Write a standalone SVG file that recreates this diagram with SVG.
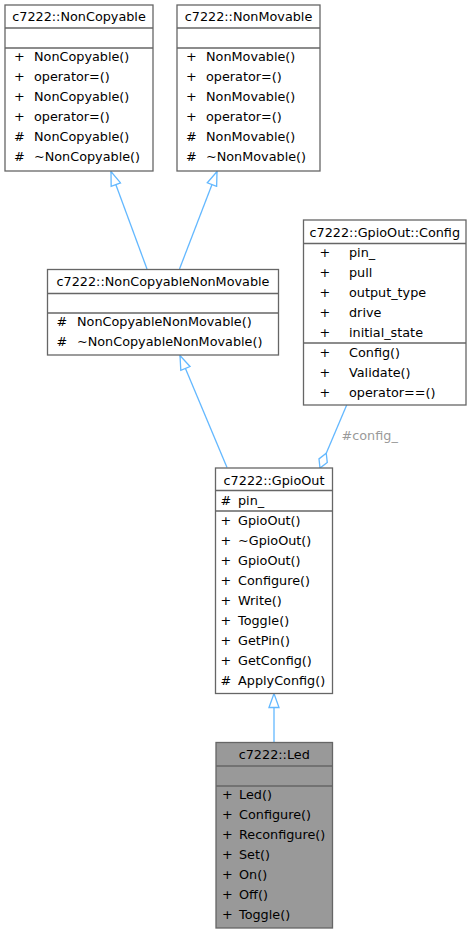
<svg xmlns="http://www.w3.org/2000/svg" width="471" height="933" viewBox="0 0 471 933">
<style>
  .box { fill: #ffffff; stroke: #666666; stroke-width: 1.3; }
  .dark { fill: #999999; }
  .div { stroke: #666666; stroke-width: 1.3; fill: none; }
  text { font-family: "DejaVu Sans", "Liberation Sans", sans-serif; font-size: 12.8px; fill: #000000; }
  .t { text-anchor: middle; }
  .lbl { fill: #9a9a9a; }
  .edge { stroke: #63b8ff; stroke-width: 1.3; fill: none; }
</style>
<defs>
  <marker id="inh" viewBox="-1 -1 16 12" refX="14" refY="5" markerWidth="16" markerHeight="12" orient="auto" markerUnits="userSpaceOnUse">
    <path d="M0,0 L14,5 L0,10 Z" fill="#ffffff" stroke="#63b8ff" stroke-width="1.3"/>
  </marker>
  <marker id="agg" viewBox="-1 -6 18 12" refX="16" refY="0" markerWidth="18" markerHeight="12" orient="auto" markerUnits="userSpaceOnUse">
    <path d="M0,0 L8,-4.5 L16,0 L8,4.5 Z" fill="#ffffff" stroke="#63b8ff" stroke-width="1.3"/>
  </marker>
</defs>

<g id="connectors">
  <path class="edge" d="M147,269 L111,171.5" marker-end="url(#inh)"/>
  <path class="edge" d="M179.5,269 L217,171.5" marker-end="url(#inh)"/>
  <path class="edge" d="M227,467.5 L180,355.5" marker-end="url(#inh)"/>
  <path class="edge" d="M274,742 L274,693.5" marker-end="url(#inh)"/>
  <path class="edge" d="M346.7,405 L320,468" marker-end="url(#agg)"/>
  <text class="lbl" x="341.5" y="440">#config_</text>
</g>

<g id="NonCopyable">
  <rect class="box" x="5" y="5" width="148" height="166"/>
  <line class="div" x1="5" y1="28" x2="153" y2="28"/>
  <line class="div" x1="5" y1="48" x2="153" y2="48"/>
  <text class="t" x="79" y="21">c7222::NonCopyable</text>
  <text x="14" y="61">+</text><text x="34" y="61">NonCopyable()</text>
  <text x="14" y="81">+</text><text x="34" y="81">operator=()</text>
  <text x="14" y="101">+</text><text x="34" y="101">NonCopyable()</text>
  <text x="14" y="121">+</text><text x="34" y="121">operator=()</text>
  <text x="14" y="141">#</text><text x="34" y="141">NonCopyable()</text>
  <text x="14" y="161">#</text><text x="34" y="161">~NonCopyable()</text>
</g>

<g id="NonMovable">
  <rect class="box" x="177" y="5" width="143" height="166"/>
  <line class="div" x1="177" y1="28" x2="320" y2="28"/>
  <line class="div" x1="177" y1="48" x2="320" y2="48"/>
  <text class="t" x="248.5" y="21">c7222::NonMovable</text>
  <text x="186" y="61">+</text><text x="206" y="61">NonMovable()</text>
  <text x="186" y="81">+</text><text x="206" y="81">operator=()</text>
  <text x="186" y="101">+</text><text x="206" y="101">NonMovable()</text>
  <text x="186" y="121">+</text><text x="206" y="121">operator=()</text>
  <text x="186" y="141">#</text><text x="206" y="141">NonMovable()</text>
  <text x="186" y="161">#</text><text x="206" y="161">~NonMovable()</text>
</g>

<g id="NonCopyableNonMovable">
  <rect class="box" x="47.5" y="269.5" width="231" height="85.5"/>
  <line class="div" x1="47.5" y1="293.5" x2="278.5" y2="293.5"/>
  <line class="div" x1="47.5" y1="313" x2="278.5" y2="313"/>
  <text class="t" x="163" y="286">c7222::NonCopyableNonMovable</text>
  <text x="56.5" y="326">#</text><text x="77" y="326">NonCopyableNonMovable()</text>
  <text x="56.5" y="346">#</text><text x="77" y="346">~NonCopyableNonMovable()</text>
</g>

<g id="GpioOutConfig">
  <rect class="box" x="303.5" y="220" width="162.5" height="185"/>
  <line class="div" x1="303.5" y1="243.5" x2="466" y2="243.5"/>
  <line class="div" x1="303.5" y1="343" x2="466" y2="343"/>
  <text class="t" x="384.75" y="237">c7222::GpioOut::Config</text>
  <text x="319.5" y="257">+</text><text x="349" y="257">pin_</text>
  <text x="319.5" y="277">+</text><text x="349" y="277">pull</text>
  <text x="319.5" y="297">+</text><text x="349" y="297">output_type</text>
  <text x="319.5" y="317">+</text><text x="349" y="317">drive</text>
  <text x="319.5" y="337">+</text><text x="349" y="337">initial_state</text>
  <text x="319.5" y="357">+</text><text x="349" y="357">Config()</text>
  <text x="319.5" y="377">+</text><text x="349" y="377">Validate()</text>
  <text x="319.5" y="397">+</text><text x="349" y="397">operator==()</text>
</g>

<g id="GpioOut">
  <rect class="box" x="215.5" y="468" width="117" height="225.5"/>
  <line class="div" x1="215.5" y1="490.5" x2="332.5" y2="490.5"/>
  <line class="div" x1="215.5" y1="511" x2="332.5" y2="511"/>
  <text class="t" x="274" y="485">c7222::GpioOut</text>
  <text x="220.5" y="504.5">#</text><text x="238" y="504.5">pin_</text>
  <text x="220.5" y="524.5">+</text><text x="238" y="524.5">GpioOut()</text>
  <text x="220.5" y="544.5">+</text><text x="238" y="544.5">~GpioOut()</text>
  <text x="220.5" y="564.5">+</text><text x="238" y="564.5">GpioOut()</text>
  <text x="220.5" y="584.5">+</text><text x="238" y="584.5">Configure()</text>
  <text x="220.5" y="604.5">+</text><text x="238" y="604.5">Write()</text>
  <text x="220.5" y="624.5">+</text><text x="238" y="624.5">Toggle()</text>
  <text x="220.5" y="644.5">+</text><text x="238" y="644.5">GetPin()</text>
  <text x="220.5" y="664.5">+</text><text x="238" y="664.5">GetConfig()</text>
  <text x="220.5" y="684.5">#</text><text x="238" y="684.5">ApplyConfig()</text>
</g>

<g id="Led">
  <rect class="box dark" x="216" y="742.5" width="116.5" height="185.5"/>
  <line class="div" x1="216" y1="766" x2="332.5" y2="766"/>
  <line class="div" x1="216" y1="786" x2="332.5" y2="786"/>
  <text class="t" x="274.25" y="758.5">c7222::Led</text>
  <text x="222" y="798.5">+</text><text x="239" y="798.5">Led()</text>
  <text x="222" y="818.5">+</text><text x="239" y="818.5">Configure()</text>
  <text x="222" y="838.5">+</text><text x="239" y="838.5">Reconfigure()</text>
  <text x="222" y="858.5">+</text><text x="239" y="858.5">Set()</text>
  <text x="222" y="878.5">+</text><text x="239" y="878.5">On()</text>
  <text x="222" y="898.5">+</text><text x="239" y="898.5">Off()</text>
  <text x="222" y="918.5">+</text><text x="239" y="918.5">Toggle()</text>
</g>
</svg>
